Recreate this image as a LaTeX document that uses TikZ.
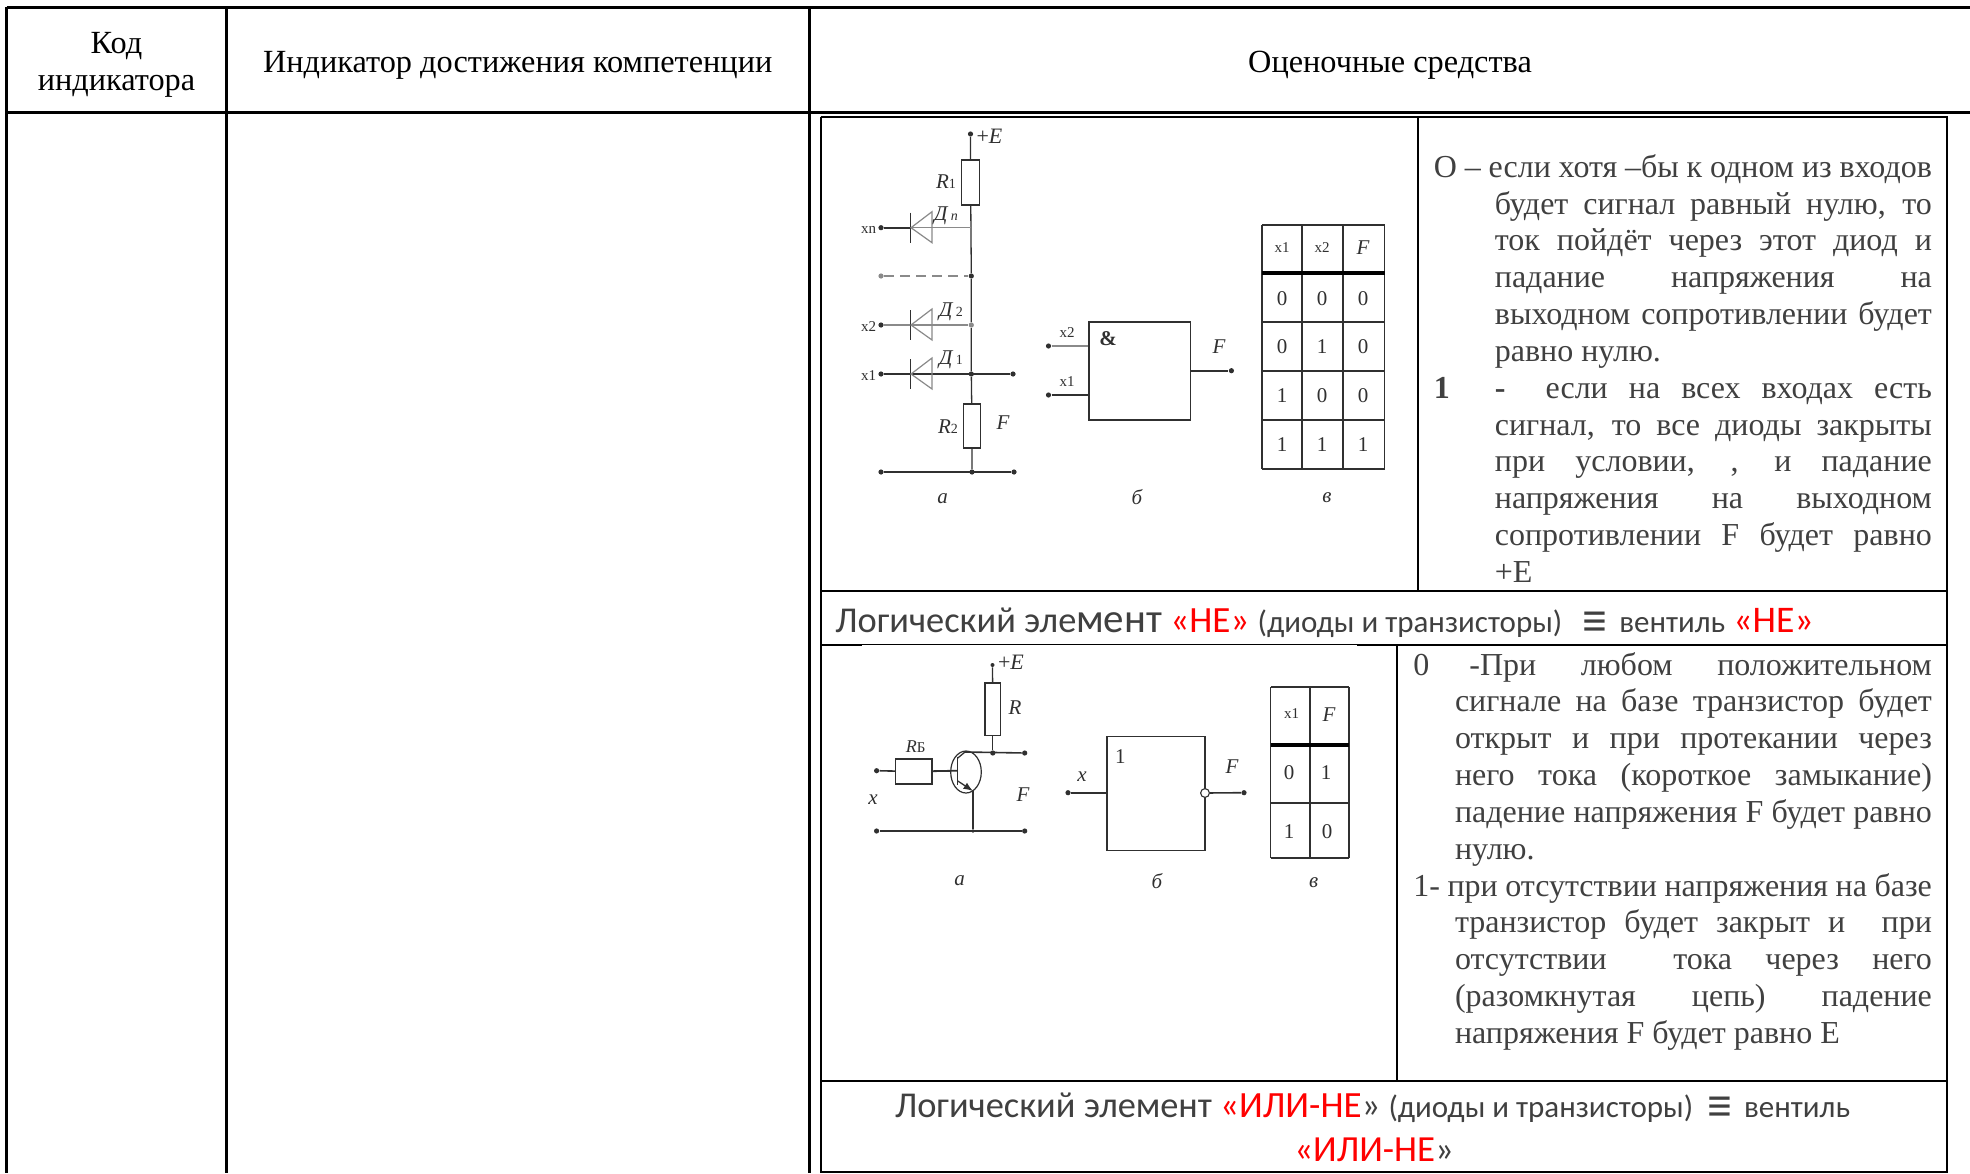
\documentclass[tikz,border=0pt]{standalone}
\usepackage{fontspec}
\usetikzlibrary{shapes.geometric}
\setmainfont{Liberation Serif}
\newfontfamily\calib{Carlito}
\definecolor{bodyink}{HTML}{404040}
\definecolor{wire}{HTML}{303030}
\definecolor{softwire}{HTML}{8A8A8A}
\definecolor{redink}{HTML}{FF0000}
\newcommand{\tsz}[1]{\fontsize{#1}{#1}\selectfont}
\newcommand{\redt}[1]{\textcolor{redink}{#1}}
\newcommand{\equivmark}{\raisebox{-2.6pt}{\tsz{25}≡}}
\tikzset{
  grid3/.style={line width=1.6pt,black},
  grid2/.style={line width=1.0pt,black},
  thead/.style={anchor=base,inner sep=0pt,font=\tsz{16.15}},
  para/.style={anchor=north west,inner sep=0pt,text=bodyink,align=justify,font=\tsz{16}},
  band/.style={anchor=base west,inner sep=0pt,text=bodyink,font=\calib\tsz{18.2}},
  wireline/.style={line width=0.65pt,wire},
  softline/.style={line width=0.6pt,softwire},
  hvy/.style={line width=1.9pt,black},
  dot/.style={circle,fill=wire,inner sep=0pt,minimum size=2.6pt},
  softdot/.style={circle,fill=softwire,inner sep=0pt,minimum size=2.6pt},
  res/.style={draw=wire,line width=0.55pt,fill=white,inner sep=0pt},
  lbl/.style={inner sep=0pt,text=wire,font=\itshape\tsz{10.5}},
  num/.style={inner sep=0pt,text=wire,font=\tsz{10.5}},
  small/.style={inner sep=0pt,text=wire,font=\tsz{7.5}},
  diodeshape/.style={draw=softwire,line width=0.6pt},
}
\newcommand{\diode}[1]{%
  \draw[wireline] (910.7,#1-15) -- (910.7,#1+15);
  \draw[diodeshape] (911,#1) -- (932,#1-16) -- (932,#1+15) -- cycle;
}
\begin{document}
\begin{tikzpicture}[x=0.5pt,y=-0.5pt]
\useasboundingbox (0,0) rectangle (1970,1173);
\fill[white] (0,0) rectangle (1970,1173);
% outer table
\coordinate (tl) at (6.7,7.3);
\coordinate (trt) at (1970,7.3);
\coordinate (hl) at (6.7,112.3);
\coordinate (hr) at (1970,112.3);
\coordinate (bl) at (6.7,1173);
\draw[grid3] (tl) -- (trt);
\draw[grid3] (hl) -- (hr);
\draw[grid3] (tl) -- (bl);
\draw[grid3] (226.7,7.3) -- (226.7,1173);
\draw[grid3] (809.3,7.3) -- (809.3,1173);
\node[thead] (h1a) at (116.5,53.5) {Код};
\node[thead] (h1b) at (116.5,90.3) {индикатора};
\node[thead] (h2) at (517.7,72.7) {Индикатор достижения компетенции};
\node[thead] (h3) at (1390,72.7) {Оценочные средства};
% inner table
\coordinate (il) at (820.7,117);
\coordinate (ir) at (1946.5,117);
\draw[grid2] (il) -- (ir) -- (1946.5,1173);
\draw[grid2] (il) -- (820.7,1173);
\draw[grid2] (820.7,591) -- (1946.5,591);
\draw[grid2] (820.7,644.5) -- (1946.5,644.5);
\draw[grid2] (820.7,1080.5) -- (1946.5,1080.5);
\draw[grid2] (820.7,1172.4) -- (1946.5,1172.4);
\draw[grid2] (1418,117) -- (1418,591);
\draw[grid2] (1397,644.5) -- (1397,1080.5);
\fill[white] (853,117.6) rectangle (1393,119);
\fill[white] (862,645) rectangle (1357,646.4);
% right text 1
\node[para,text width=249pt] (t1) at (1433.5,152.8) {\tolerance=9999\hbadness=10000\hfuzz=4pt\baselineskip=18.42pt\lineskip=0pt
\hangindent=30.5pt\hangafter=1\noindent\rule{0pt}{12pt}О – если хотя –бы к одном из входов\linebreak будет сигнал равный нулю, то\linebreak ток пойдёт через этот диод и\linebreak падание напряжения на\linebreak выходном сопротивлении будет\linebreak равно нулю.\par
\hangindent=30.5pt\hangafter=1\noindent\makebox[30.5pt][l]{\textbf{1}}\textbf{-}\hspace{20pt}если на всех входах есть\linebreak сигнал, то все диоды закрыты\linebreak при условии, , и падание\linebreak напряжения на выходном\linebreak сопротивлении F будет равно\linebreak +E\par};
% right text 2
\node[para,text width=259.25pt] (t2) at (1413,650.6) {\tolerance=9999\hbadness=10000\hfuzz=4pt\baselineskip=18.42pt\lineskip=0pt
\hangindent=20.8pt\hangafter=1\noindent\rule{0pt}{12pt}0\hspace{20pt}-При любом положительном\linebreak сигнале на базе транзистор будет\linebreak открыт и при протекании через\linebreak него тока (короткое замыкание)\linebreak падение напряжения F будет равно\linebreak нулю.\par
\hangindent=20.8pt\hangafter=1\noindent 1- при отсутствии напряжения на базе\linebreak транзистор будет закрыт и\ \ при\linebreak отсутствии\ \ тока через него\linebreak (разомкнутая цепь) падение\linebreak напряжения F будет равно E\par};
% band texts
\node[band] (b1) at (835,632) {Логический эле{\tsz{20.5}мент} \redt{\tsz{18.5}«НЕ»} {\tsz{15.5}(диоды и транзисторы)}\hspace{10pt}\equivmark\hspace{6pt}{\tsz{15.5}вентиль} \redt{\tsz{18.8}«НЕ»}};
\node[band] (b2) at (894.6,1117.5) {Логический элемент \redt{\tsz{18.5}«ИЛИ-НЕ}» {\tsz{15.5}(диоды и транзисторы)}\hspace{7pt}\equivmark\hspace{6pt}{\tsz{15.5}вентиль}};
\node[band,anchor=base] (b3) at (1374,1161) {\redt{\tsz{18.4}«ИЛИ-НЕ}»};

% ===== circuit 1a
\node[dot] (pe) at (970.5,134) {};
\node[lbl,font=\tsz{11}] (pel) at (989.5,136) {+\textit{E}};
\node[res,minimum width=9pt,minimum height=22.5pt] (r1) at (970.6,182.5) {};
\node[lbl] (r1l) at (946,182) {\textit{R}\upshape\tsz{7}1};
\node[res,minimum width=8.6pt,minimum height=22pt] (r2) at (972,426) {};
\node[lbl] (r2l) at (948,427) {\textit{R}\upshape\tsz{7}2};
\node[lbl] (fl1) at (1003,423) {F};
\node[dot] (jd) at (971.3,276) {};
\node[softdot] (j2) at (971.3,325) {};
\node[dot] (j1) at (971.3,374) {};
\node[dot] (jb) at (972,472) {};
\coordinate (jn) at (971,227.7);
\node[dot] (xn) at (881,227.7) {};
\node[softdot] (xd) at (881,276) {};
\node[dot] (x2) at (881,325) {};
\node[dot] (x1) at (881,374) {};
\node[dot] (o1) at (1013,374) {};
\node[dot] (gl) at (881,472) {};
\node[dot] (gr) at (1014,472) {};
\draw[wireline] (pe) -- (r1);
\draw[wireline] (r1) -- (jd) -- (j2) -- (j1) -- (r2) -- (jb);
\draw[wireline,line width=0.8pt] (gl) -- (gr);
\draw[wireline,line width=0.9pt] (xn) -- (910.7,227.7);
\draw[softline] (910.7,227.7) -- (jn);
\draw[softline,dash pattern=on 5pt off 3pt,line width=0.8pt] (xd) -- (jd);
\draw[softline] (x2) -- (j2);
\draw[wireline,line width=0.8pt] (x1) -- (o1);
\diode{227.7}
\diode{325}
\diode{374}
\node[small] (xnl) at (868.6,230) {xn};
\node[small] (x2l) at (868.6,327) {x2};
\node[small] (x1l) at (868.6,376) {x1};
\node[lbl] (dn) at (946,216) {Д\,\tsz{7}n};
\node[lbl] (d2) at (951,312) {Д\,\tsz{7}\upshape 2};
\node[lbl] (d1) at (951,360) {Д\,\tsz{7}\upshape 1};
\node[lbl] (ca1) at (942.5,499) {а};
\node[lbl] (cb1) at (1137,497) {б};
\node[lbl] (cc1) at (1327,498) {в};
% ===== circuit 1b
\node[draw=wire,line width=0.6pt,minimum width=50.75pt,minimum height=49pt,inner sep=0pt] (and1) at (1139.75,371) {};
\node[dot] (ix2) at (1048.5,346) {};
\node[dot] (ix1) at (1048.5,395) {};
\node[dot] (of1) at (1231.4,370.7) {};
\draw[softline,line width=0.8pt] (ix2) -- (ix2-|and1.west);
\draw[wireline,line width=0.8pt] (ix1) -- (ix1-|and1.west);
\draw[wireline,line width=0.8pt] (of1-|and1.east) -- (of1);
\node[small] (ix2l) at (1067,333) {x2};
\node[small] (ix1l) at (1067,382) {x1};
\node[inner sep=0pt,text=wire,font=\bfseries\tsz{10.5}] (amp) at (1108,339) {\&};
\node[lbl] (f1b) at (1219,347) {F};
% ===== table 1c
\foreach \xx in {1262,1302,1343,1384.5} \draw[wireline] (\xx,225) -- (\xx,469);
\foreach \yy in {225,322,371,420,469} \draw[wireline] (1262,\yy) -- (1384.5,\yy);
\draw[hvy] (1262,273) -- (1384.5,273);
\node[small] (c00) at (1282,248) {x1};
\node[small] (c01) at (1322,248) {x2};
\node[lbl] (c02) at (1363,248) {F};
\node[num] (c10) at (1282,299) {0};
\node[num] (c11) at (1322,299) {0};
\node[num] (c12) at (1363,299) {0};
\node[num] (c20) at (1282,347) {0};
\node[num] (c21) at (1322,347) {1};
\node[num] (c22) at (1363,347) {0};
\node[num] (c30) at (1282,396) {1};
\node[num] (c31) at (1322,396) {0};
\node[num] (c32) at (1363,396) {0};
\node[num] (c40) at (1282,445) {1};
\node[num] (c41) at (1322,445) {1};
\node[num] (c42) at (1363,445) {1};
% ===== circuit 2a
\node[dot,minimum size=2pt] (pe2) at (992.5,665) {};
\node[lbl,font=\tsz{11}] (pe2l) at (1011,662.7) {+\textit{E}};
\node[res,minimum width=7.8pt,minimum height=26.3pt] (rc) at (992.8,709.3) {};
\node[lbl] (rcl) at (1015,708) {R};
\node[dot] (cj) at (992.8,753) {};
\node[dot] (co) at (1024.7,753) {};
\node[draw=wire,line width=0.6pt,ellipse,minimum width=15.3pt,minimum height=21pt,inner sep=0pt] (qt) at (966,772) {};
\coordinate (cc) at (965,752);
\coordinate (bb) at (957.8,770.7);
\coordinate (ee) at (973,791);
\node[res,minimum width=18.1pt,minimum height=12.5pt] (rb) at (913.9,771.5) {};
\node[dot] (xi) at (876.6,770.7) {};
\node[dot] (g2l) at (876.6,831) {};
\node[dot] (g2r) at (1024.7,831) {};
\node[dot,minimum size=1.8pt] (g2j) at (973,831) {};
\draw[wireline] (pe2) -- (rc);
\draw[wireline] (rc) -- (cj);
\draw[wireline,line width=0.8pt] (cc) -- (co);
\draw[wireline,line width=0.8pt] (xi) -- (rb);
\draw[wireline,line width=0.9pt] (rb) -- (bb);
\draw[wireline] (957.8,757) -- (957.8,785);
\draw[wireline] (957.8,758) -- (cc);
\draw[wireline,-latex] (957.8,781) -- (ee);
\draw[wireline] (ee) -- (g2j);
\draw[wireline,line width=0.8pt] (g2l) -- (g2r);
\node[lbl,font=\itshape\tsz{9}] (rbl) at (915.7,746.7) {R\upshape\tsz{7.5}Б};
\node[lbl] (xil) at (873,800) {x};
\node[lbl] (f2a) at (1023,795) {F};
\node[lbl] (ca2) at (959.7,880.7) {а};
\node[lbl] (cb2) at (1157,880.7) {б};
\node[lbl] (cc2) at (1313.7,883) {в};
% ===== circuit 2b
\node[draw=wire,line width=0.6pt,minimum width=49pt,minimum height=57pt,inner sep=0pt] (not1) at (1156,793.7) {};
\node[dot] (nx) at (1068,792.7) {};
\node[dot] (nf) at (1244,792.7) {};
\node[circle,draw=wire,line width=0.55pt,fill=white,inner sep=0pt,minimum size=4.4pt] (bub) at (1205,793) {};
\draw[wireline,line width=0.8pt] (nx) -- (nx-|not1.west);
\draw[wireline,line width=0.8pt] (bub) -- (nf);
\node[lbl] (nxl) at (1082,776.7) {x};
\node[num] (none) at (1120.4,756.7) {1};
\node[lbl] (nfl) at (1232,766.7) {F};
% ===== table 2c
\foreach \xx in {1270.8,1310,1349} \draw[wireline] (\xx,687) -- (\xx,858);
\foreach \yy in {687,858} \draw[wireline] (1270.8,\yy) -- (1349,\yy);
\draw[hvy] (1270.8,745) -- (1349,745);
\draw[wireline,line width=0.9pt] (1270.8,802.7) -- (1349,802.7);
\node[small] (d00) at (1291.5,714) {x1};
\node[lbl] (d01) at (1329,715) {F};
\node[num] (d10) at (1289,773) {0};
\node[num] (d11) at (1326,773) {1};
\node[num] (d20) at (1289,831.7) {1};
\node[num] (d21) at (1327,831.7) {0};
\end{tikzpicture}
\end{document}
